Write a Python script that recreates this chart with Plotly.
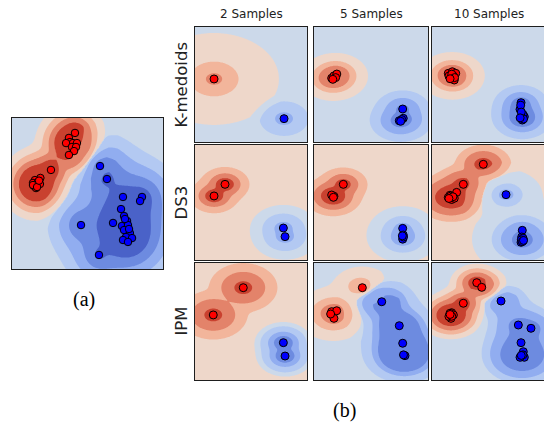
import numpy as np
import plotly.graph_objects as go

# ---------------- data (panel coordinates 0-100, y measured from top) -------------
a_red_x = [41.7, 37.7, 38.4, 40.4, 43.0, 35.8, 39.7, 42.4, 41.1, 37.7, 25.8, 18.8, 15.2, 13.9, 16.6, 14.6, 17.2, 15.9, 13.9, 18.5, 16.6, 17.9]
a_red_y = [9.9, 13.2, 15.9, 16.6, 16.6, 16.6, 19.2, 19.2, 21.9, 24.5, 34.4, 39.7, 41.1, 43.0, 43.7, 45.0, 42.4, 46.4, 44.4, 43.7, 45.7, 41.5]
a_blue_x = [58.3, 62.9, 73.5, 86.1, 84.8, 72.2, 74.2, 45.7, 66.9, 72.8, 76.2, 76.8, 74.2, 78.1, 75.5, 79.5, 73.5, 76.8, 57.6, 74.8, 77.5]
a_blue_y = [31.8, 40.4, 52.3, 52.3, 55.0, 60.3, 64.9, 70.9, 69.5, 71.5, 68.2, 70.9, 74.2, 76.2, 78.8, 79.5, 80.8, 82.1, 90.7, 66.9, 73.5]

km2_red_x = [17.0]
km2_red_y = [45.2]
km2_blue_x = [79.5]
km2_blue_y = [79.7]

km5_red_x = [15.5, 17.5, 20.0, 19.0, 16.5]
km5_red_y = [44.5, 42.5, 40.9, 44.0, 45.5]
km5_blue_x = [77.8, 78.3, 74.8, 77.0, 76.0]
km5_blue_y = [71.3, 79.4, 81.5, 80.5, 82.0]

km10_red_x = [14.4, 18.0, 21.0, 16.8, 19.7, 15.0, 18.9, 17.5, 20.0, 16.0]
km10_red_y = [40.3, 38.9, 40.3, 43.7, 46.1, 42.6, 42.6, 41.0, 44.0, 45.0]
km10_blue_x = [78.8, 77.9, 79.4, 81.7, 79.9, 78.5, 80.5, 79.0, 81.0, 78.0]
km10_blue_y = [65.8, 71.6, 79.4, 78.0, 80.9, 68.0, 76.0, 74.0, 80.0, 79.0]

ds2_red_x = [26.8, 17.0]
ds2_red_y = [34.2, 44.3]
ds2_blue_x = [78.9, 80.4]
ds2_blue_y = [72.2, 79.7]

ds5_red_x = [25.7, 16.4, 17.5, 15.5, 17.0]
ds5_red_y = [34.2, 44.3, 44.6, 43.5, 45.5]
ds5_blue_x = [77.8, 78.3, 77.8, 78.5, 77.5]
ds5_blue_y = [72.5, 78.3, 81.9, 80.0, 79.0]

ds10_red_x = [45.4, 27.7, 21.8, 15.9, 17.4, 14.4, 19.7, 16.5, 18.5, 15.0]
ds10_red_y = [16.8, 34.2, 41.2, 43.7, 47.4, 45.6, 46.3, 44.5, 45.0, 46.5]
ds10_blue_x = [65.5, 79.9, 79.4, 80.8, 78.8, 79.9, 80.5, 79.0, 80.0, 81.0]
ds10_blue_y = [43.2, 74.2, 80.0, 82.3, 84.6, 83.7, 81.0, 82.5, 84.0, 83.0]

ipm2_red_x = [43.1, 16.3]
ipm2_red_y = [21.1, 44.4]
ipm2_blue_x = [78.9, 80.4]
ipm2_blue_y = [68.1, 79.5]

ipm5_red_x = [42.4, 15.5, 19.9, 17.5, 14.6]
ipm5_red_y = [21.1, 41.6, 40.8, 47.3, 43.6]
ipm5_blue_x = [59.4, 74.8, 77.8, 79.8, 78.5]
ipm5_blue_y = [33.1, 53.6, 68.6, 79.2, 78.5]

ipm10_red_x = [39.6, 44.0, 27.7, 17.4, 15.9, 18.9, 16.8, 15.0, 17.5, 16.0]
ipm10_red_y = [16.8, 20.8, 34.4, 42.5, 43.0, 44.4, 47.3, 45.7, 45.5, 44.0]
ipm10_blue_x = [61.1, 76.4, 87.6, 78.8, 80.8, 79.4, 81.7, 77.9, 80.5, 79.0]
ipm10_blue_y = [32.5, 53.0, 55.8, 68.1, 75.8, 80.1, 80.6, 80.6, 78.5, 79.0]

col_titles = ["2 Samples", "5 Samples", "10 Samples"]
row_titles = ["K-medoids", "DS3", "IPM"]
sub_labels = ["(a)", "(b)"]

# ---------------- styling ----------------
W, H = 544, 424
band_colors = ["#4a62c8", "#6d8be0", "#91adf0", "#b3c9f2", "#ccd9ea",
               "#eed7ca", "#f2b59b", "#e3836a", "#c9412f"]
cscale = [[k / 8, c] for k, c in enumerate(band_colors)]

col_px = [(195, 307), (314, 428), (432, 545)]
row_px = [(27, 142), (145, 260), (263, 380)]

# panel definitions: data + contour shape parameters
# (red x, red y, blue x, blue y, bias, red smoothing, red rings, blue smoothing, blue rings)
grid = [
    [(km2_red_x, km2_red_y, km2_blue_x, km2_blue_y, -0.5, 2, [40, 15, 5], 2, [15, 5.5]),
     (km5_red_x, km5_red_y, km5_blue_x, km5_blue_y, -0.5, 2, [17, 10, 6], 2, [16, 9.5, 3.5]),
     (km10_red_x, km10_red_y, km10_blue_x, km10_blue_y, -0.5, 2, [15, 8, 4], 2, [14.5, 8.5, 4])],
    [(ds2_red_x, ds2_red_y, ds2_blue_x, ds2_blue_y, 0.5, 2, [15, 9.5, 5.5], 2, [20, 12.5, 5.3]),
     (ds5_red_x, ds5_red_y, ds5_blue_x, ds5_blue_y, 0.5, 2, [14.5, 9, 4.5], 2, [19, 10.5, 4.5, 0.5]),
     (ds10_red_x, ds10_red_y, ds10_blue_x, ds10_blue_y, 0.5, 2, [17, 11.5, 5.5], 4, [22, 10, 4.5, -2])],
    [(ipm2_red_x, ipm2_red_y, ipm2_blue_x, ipm2_blue_y, 0.5, 2, [21, 13.5, 5.5], 2, [17.5, 14, 9.3, 5.8]),
     (ipm5_red_x, ipm5_red_y, ipm5_blue_x, ipm5_blue_y, -0.5, 3, [18, 9, 3.5], 5, [20, 14, 10.5]),
     (ipm10_red_x, ipm10_red_y, ipm10_blue_x, ipm10_blue_y, -0.5, 2, [16, 12, 8.5, 5], 5, [15, 10, 4])],
]

K_OTHER = 0.55  # how strongly the weaker class eats into the dominant class' bands


def class_height(X, Y, px, py, lam, rings, ax):
    px = np.asarray(px)[None, None, :]
    py = np.asarray(py)[None, None, :]
    d = np.sqrt(((X[..., None] - px) / ax) ** 2 + (Y[..., None] - py) ** 2)
    m = d.min(-1)
    ds = m - lam * np.log(np.exp(-(d - m[..., None]) / lam).sum(-1))
    n = len(rings)
    xs = [rings[-1] - 5] + list(rings[::-1]) + [rings[0] + 6]
    ls = [n - 0.05] + [n - 0.5 - j for j in range(n)] + [0]
    return np.interp(ds, xs, ls)


def field(rx, ry, bx, by, bias, lr, rr, lb, rb, ax, xmax):
    gx = np.linspace(0, xmax, 170)
    gy = np.linspace(0, 100, 170)
    X, Y = np.meshgrid(gx, gy)
    hr = class_height(X, Y, rx, ry, lr, rr, ax)
    hb = class_height(X, Y, bx, by, lb, rb, ax)
    f = np.where(hr >= hb, bias + hr - K_OTHER * hb, bias + K_OTHER * hr - hb)
    z = np.clip(f + 4.5, 0.02, 8.98)
    return gx, gy, z


fig = go.Figure()
axis_common = dict(showticklabels=False, ticks="", showgrid=False, zeroline=False,
                   showline=True, linecolor="#1e1e1e", linewidth=1)
layout = {}


def add_panel(idx, rx, ry, bx, by, bias, lr, rr, lb, rb, ax, xdom, ydom, xmax, msize, mirror_y=True):
    xa = "x" if idx == 1 else f"x{idx}"
    ya = "y" if idx == 1 else f"y{idx}"
    gx, gy, z = field(rx, ry, bx, by, bias, lr, rr, lb, rb, ax, xmax)
    fig.add_trace(go.Contour(x=gx, y=gy, z=z, xaxis=xa, yaxis=ya,
                             autocontour=False,
                             contours=dict(start=0.5, end=7.5, size=1, coloring="fill", showlines=False),
                             colorscale=cscale, showscale=False, hoverinfo="skip",
                             line=dict(width=0, smoothing=1)))
    for xs, ys, col in ((rx, ry, "#ff0000"), (bx, by, "#0000ff")):
        fig.add_trace(go.Scatter(x=xs, y=ys, mode="markers", xaxis=xa, yaxis=ya,
                                 marker=dict(size=msize, color=col, line=dict(color="black", width=1)),
                                 hoverinfo="skip", showlegend=False))
    layout["xaxis" if idx == 1 else f"xaxis{idx}"] = dict(domain=xdom, range=[0, xmax], anchor=ya,
                                                          mirror=True, **axis_common)
    layout["yaxis" if idx == 1 else f"yaxis{idx}"] = dict(domain=ydom, range=[100, 0], anchor=xa,
                                                          mirror=mirror_y, **axis_common)


# panel (a)
add_panel(1, a_red_x, a_red_y, a_blue_x, a_blue_y, -0.5, 2, [19, 14, 10, 6.5], 6, [21, 13.5, 7, 1], 1.0,
          [12 / W, 163 / W], [1 - 269 / H, 1 - 118 / H], 100, 7.5)

idx = 2
for r, row in enumerate(grid):
    for c, p in enumerate(row):
        x0, x1 = col_px[c]
        y0, y1 = row_px[r]
        xe = min(x1, W)
        xmax = 100 * (xe - x0) / (x1 - x0)
        rx, ry, bx, by, bias, lr, rr, lb, rb = p
        add_panel(idx, rx, ry, bx, by, bias, lr, rr, lb, rb, 1.45,
                  [x0 / W, xe / W], [1 - y1 / H, 1 - y0 / H], xmax, 8, mirror_y=(x1 <= W))
        idx += 1

ann = []
for c, t in enumerate(col_titles):
    x0, x1 = col_px[c]
    ann.append(dict(text=t, x=((x0 + x1) / 2) / W, y=1 - 14 / H, xref="paper", yref="paper",
                    showarrow=False, xanchor="center", yanchor="middle",
                    font=dict(family="DejaVu Sans", size=12, color="#222222")))
for r, t in enumerate(row_titles):
    y0, y1 = row_px[r]
    ann.append(dict(text=t, x=181 / W, y=1 - ((y0 + y1) / 2) / H, xref="paper", yref="paper",
                    showarrow=False, xanchor="center", yanchor="middle", textangle=-90,
                    font=dict(family="DejaVu Sans", size=16.5, color="#222222")))
ann.append(dict(text=sub_labels[0], x=84 / W, y=1 - 299 / H, xref="paper", yref="paper", showarrow=False,
                xanchor="center", yanchor="middle", font=dict(family="Liberation Serif", size=20, color="black")))
ann.append(dict(text=sub_labels[1], x=344 / W, y=1 - 410 / H, xref="paper", yref="paper", showarrow=False,
                xanchor="center", yanchor="middle", font=dict(family="Liberation Serif", size=20, color="black")))

fig.update_layout(width=W, height=H, margin=dict(l=0, r=0, t=0, b=0), paper_bgcolor="white",
                  plot_bgcolor="white", showlegend=False, annotations=ann, **layout)

fig.write_html("out.html", config={"displayModeBar": False, "staticPlot": True},
               post_script="document.body.style.margin='0';document.body.style.padding='0';")
